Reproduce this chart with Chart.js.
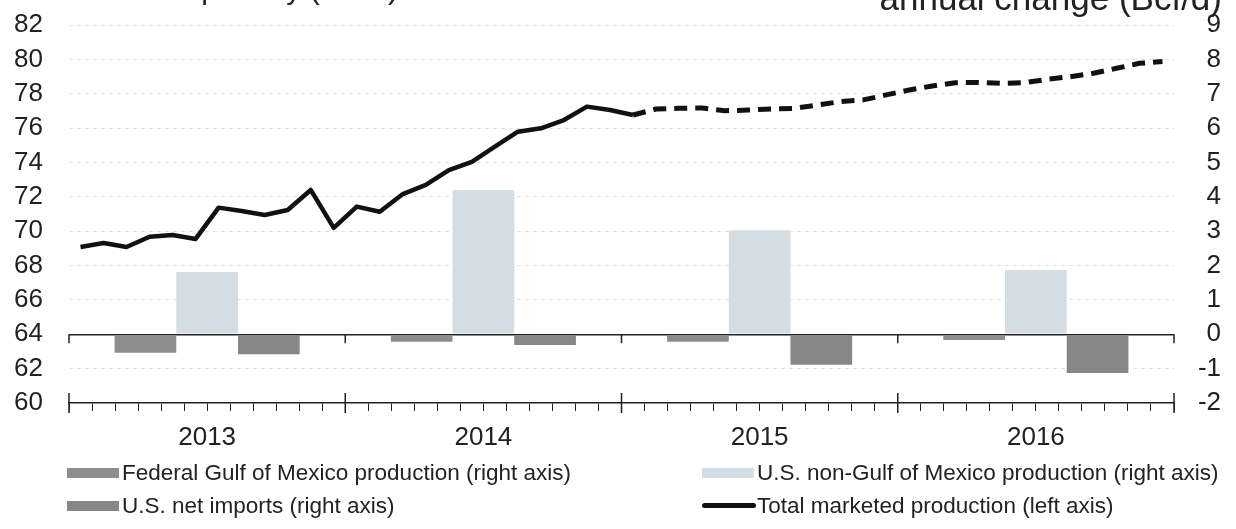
<!DOCTYPE html>
<html><head><meta charset="utf-8">
<script src="https://cdn.jsdelivr.net/npm/chart.js@4/dist/chart.umd.min.js"></script>
<style>
html,body{margin:0;padding:0;background:#fff;overflow:hidden;}
#wrap{position:relative;width:1236px;height:529px;overflow:hidden;font-family:'Liberation Sans',Arial,sans-serif;color:#222;background:#fff;}
canvas{position:absolute;left:0;top:0;}
.t{position:absolute;white-space:nowrap;}
.leg{position:absolute;white-space:nowrap;font-size:22.5px;line-height:24px;height:24px;}
.sw{position:absolute;}
</style></head><body>
<div id="wrap">
<canvas id="c" width="1236" height="529"></canvas>
<canvas id="c2" width="1236" height="529"></canvas>
<div class="t" style="right:838px;top:-26px;font-size:30px;line-height:30px;">billion cubic feet per day (Bcf/d)</div>
<div class="t" style="right:14px;top:-20px;font-size:35px;line-height:35px;">annual change (Bcf/d)</div>
</div>
<script>
// ---- data ----
const years = ['2013', '2014', '2015', '2016'];
const months = [
 'Jan 2013','Feb 2013','Mar 2013','Apr 2013','May 2013','Jun 2013','Jul 2013','Aug 2013','Sep 2013','Oct 2013','Nov 2013','Dec 2013',
 'Jan 2014','Feb 2014','Mar 2014','Apr 2014','May 2014','Jun 2014','Jul 2014','Aug 2014','Sep 2014','Oct 2014','Nov 2014','Dec 2014',
 'Jan 2015','Feb 2015','Mar 2015','Apr 2015','May 2015','Jun 2015','Jul 2015','Aug 2015','Sep 2015','Oct 2015','Nov 2015','Dec 2015',
 'Jan 2016','Feb 2016','Mar 2016','Apr 2016','May 2016','Jun 2016','Jul 2016','Aug 2016','Sep 2016','Oct 2016','Nov 2016','Dec 2016'
];
const gulfProduction = [-0.54, -0.22, -0.22, -0.17];
const nonGulfProduction = [1.81, 4.2, 3.03, 1.87];
const netImports = [-0.58, -0.31, -0.89, -1.13];
const totalMarketed = [
 69.08, 69.31, 69.08, 69.68, 69.78, 69.55, 71.37, 71.17, 70.94, 71.23, 72.40, 70.19,
 71.43, 71.13, 72.16, 72.69, 73.56, 74.04, 74.92, 75.79, 75.99, 76.47, 77.25, 77.05,
 76.76, 77.11, 77.15, 77.17, 77.01, 77.05, 77.11, 77.15, 77.34, 77.54, 77.64, 77.93,
 78.22, 78.45, 78.64, 78.66, 78.60, 78.64, 78.84, 78.99, 79.19, 79.48, 79.77, 79.87
];
const firstForecastIndex = 24;
const leftAxis = {min: 60, max: 82, step: 2};
const rightAxis = {min: -2, max: 9, step: 1};
const seriesLabels = [
 'Federal Gulf of Mexico production (right axis)',
 'U.S. non-Gulf of Mexico production (right axis)',
 'U.S. net imports (right axis)',
 'Total marketed production (left axis)'
];

// ---- layout ----
const FONT = "'Liberation Sans', Arial, sans-serif";
const INK = '#222';
const L = {leftAxisW: 69, rightAxisW: 47, padRight: 15, padTop: 25, padBottom: 78, monthAxisH: 8, yearAxisH: 40};

const yearTicks = {
  id: 'yearTicks',
  afterDatasetsDraw(chart) {
    const xs = chart.scales.xy, yr = chart.scales.yr;
    const ctx = chart.ctx;
    const n = years.length;
    const half = (xs.getPixelForValue(1) - xs.getPixelForValue(0)) / 2;
    const y0 = yr.getPixelForValue(0);
    const yb = chart.chartArea.bottom;
    ctx.save();
    ctx.strokeStyle = INK; ctx.lineWidth = 1.5;
    for (let i = 0; i <= n; i++) {
      const x = i < n ? xs.getPixelForValue(i) - half : xs.getPixelForValue(n - 1) + half;
      ctx.beginPath();
      ctx.moveTo(x, y0); ctx.lineTo(x, y0 + 9);
      ctx.moveTo(x, yb - 10); ctx.lineTo(x, yb + 10);
      ctx.stroke();
    }
    ctx.restore();
  }
};

const barCommon = {type: 'bar', xAxisID: 'xy', yAxisID: 'yr', categoryPercentage: 0.67, barPercentage: 1.0};

// Chart 1: axes, grid, bars
const chart = new Chart(document.getElementById('c'), {
  type: 'bar',
  data: {
    datasets: [
      Object.assign({label: seriesLabels[0], data: gulfProduction, backgroundColor: '#8d8d8d'}, barCommon),
      Object.assign({label: seriesLabels[1], data: nonGulfProduction, backgroundColor: '#d4dde3'}, barCommon),
      Object.assign({label: seriesLabels[2], data: netImports, backgroundColor: '#878787'}, barCommon)
    ]
  },
  options: {
    responsive: false, animation: false, devicePixelRatio: 1,
    layout: {padding: {left: 0, right: L.padRight, top: L.padTop, bottom: L.padBottom}},
    plugins: {legend: {display: false}, tooltip: {enabled: false}},
    scales: {
      xm: {type: 'category', labels: months, position: 'bottom', weight: 0, offset: true,
        grid: {offset: true, drawOnChartArea: false, drawTicks: true, tickLength: 8, color: INK, lineWidth: 1},
        border: {display: true, color: INK, width: 1.5},
        ticks: {display: false, autoSkip: false},
        afterFit: s => { s.height = L.monthAxisH; }},
      xy: {type: 'category', labels: years, position: 'bottom', weight: 1, offset: true,
        grid: {display: false, drawTicks: false}, border: {display: false},
        ticks: {font: {family: FONT, size: 26}, color: INK, padding: 11, autoSkip: false},
        afterFit: s => { s.height = L.yearAxisH; }},
      yl: {type: 'linear', position: 'left', min: leftAxis.min, max: leftAxis.max,
        ticks: {stepSize: leftAxis.step, autoSkip: false, font: {family: FONT, size: 26}, color: INK, padding: 26},
        grid: {drawTicks: false, lineWidth: 1,
          color: c => (c.tick.value === 64 || c.tick.value === 60) ? 'rgba(0,0,0,0)' : '#e3e3e3'},
        border: {display: false, dash: [4, 4]},
        afterFit: s => { s.width = L.leftAxisW; s.paddingTop = 0; s.paddingBottom = 0; }},
      yr: {type: 'linear', position: 'right', min: rightAxis.min, max: rightAxis.max,
        ticks: {stepSize: rightAxis.step, autoSkip: false, font: {family: FONT, size: 26}, color: INK, padding: 0, crossAlign: 'far'},
        grid: {drawTicks: false, lineWidth: 1.5, color: c => c.tick.value === 0 ? INK : 'rgba(0,0,0,0)'},
        border: {display: false},
        afterFit: s => { s.width = L.rightAxisW; s.paddingTop = 0; s.paddingBottom = 0; }}
    }
  },
  plugins: [yearTicks]
});

// Chart 2: the line (left axis), overlaid on exactly the same plot area as chart 1
const ca = chart.chartArea;
const lineDataset = {type: 'line', label: seriesLabels[3], data: totalMarketed,
  borderColor: '#111', borderWidth: 4.5, pointRadius: 0, tension: 0, borderJoinStyle: 'round',
  segment: {borderDash: ctx => ctx.p0DataIndex >= firstForecastIndex ? [13, 8] : undefined,
            borderWidth: ctx => ctx.p0DataIndex >= firstForecastIndex ? 5 : 4.5}};
const lineChart = new Chart(document.getElementById('c2'), {
  type: 'line',
  data: {labels: months, datasets: [lineDataset]},
  options: {
    responsive: false, animation: false, devicePixelRatio: 1,
    layout: {padding: {left: ca.left, right: chart.width - ca.right, top: ca.top, bottom: chart.height - ca.bottom}},
    plugins: {legend: {display: false}, tooltip: {enabled: false}},
    scales: {
      x: {type: 'category', offset: true, display: false},
      y: {type: 'linear', min: leftAxis.min, max: leftAxis.max, display: false}
    }
  }
});

// ---- legend (HTML, from dataset labels/colours) ----
const legendSlots = [{x: 67, y: 461}, {x: 702, y: 461}, {x: 67, y: 494}, {x: 702, y: 494}];
const wrap = document.getElementById('wrap');
const legendSets = chart.data.datasets.concat(lineChart.data.datasets);
legendSets.forEach((ds, i) => {
  const slot = legendSlots[i];
  const sw = document.createElement('div');
  sw.className = 'sw';
  if (ds.type === 'line') {
    sw.style.cssText = `left:${slot.x}px;top:${slot.y + 9}px;width:54px;height:5px;border-radius:3px;background:${ds.borderColor};`;
  } else {
    sw.style.cssText = `left:${slot.x}px;top:${slot.y + 7}px;width:52px;height:10px;background:${ds.backgroundColor};`;
  }
  wrap.appendChild(sw);
  const tx = document.createElement('div');
  tx.className = 'leg';
  tx.style.left = (slot.x + 55) + 'px';
  tx.style.top = slot.y + 'px';
  tx.textContent = ds.label;
  wrap.appendChild(tx);
});
</script>
</body></html>
